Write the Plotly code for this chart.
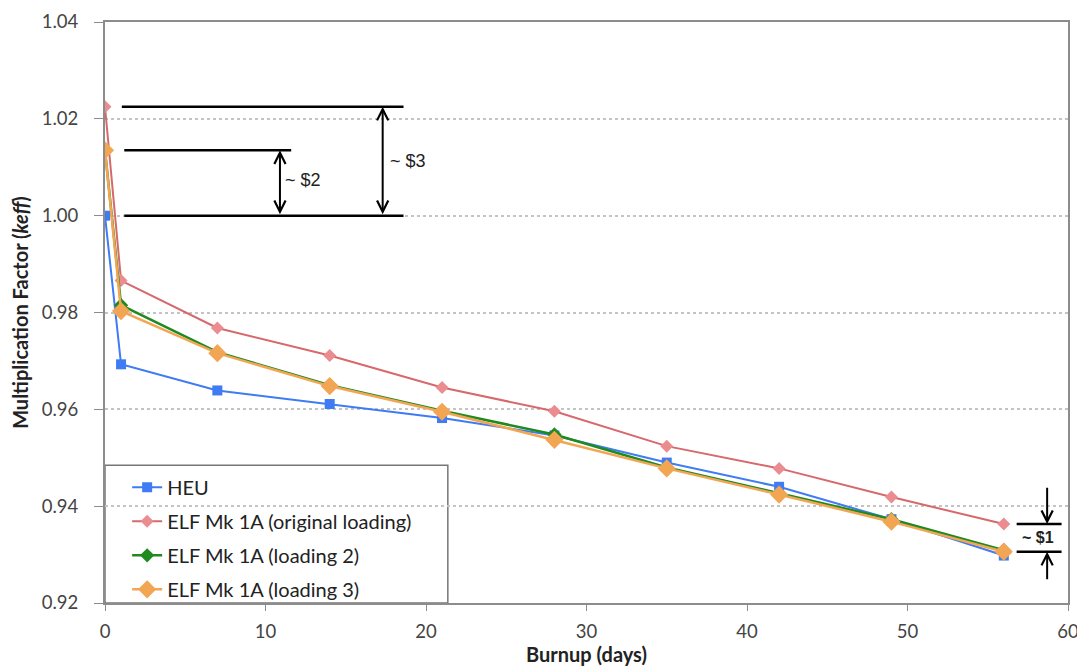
import plotly.graph_objects as go

# ---- data ----
days = [0, 1, 7, 14, 21, 28, 35, 42, 49, 56]
heu = [1.0000, 0.9693, 0.9639, 0.9611, 0.9582, 0.9546, 0.9490, 0.9440, 0.9373, 0.9298]
elf_orig = [1.0225, 0.9866, 0.9768, 0.9711, 0.9645, 0.9596, 0.9524, 0.9478, 0.9419, 0.9363]
elf_load2 = [1.0135, 0.9815, 0.9718, 0.9650, 0.9597, 0.9548, 0.9480, 0.9427, 0.9373, 0.9309]
elf_load3 = [1.0135, 0.9803, 0.9716, 0.9648, 0.9595, 0.9537, 0.9478, 0.9424, 0.9368, 0.9306]

y_ticks = [0.92, 0.94, 0.96, 0.98, 1.00, 1.02, 1.04]
x_ticks = [0, 10, 20, 30, 40, 50, 60]

fig = go.Figure()

fig.add_trace(go.Scatter(
    x=days, y=heu, name="HEU", mode="lines+markers", legendgroup="g1",
    line=dict(color="#3F7BF2", width=2),
    marker=dict(symbol="square", size=10, color="#3F7BF2")))
fig.add_trace(go.Scatter(
    x=days, y=elf_orig, name="ELF Mk 1A (original loading)", mode="lines+markers", legendgroup="g2",
    line=dict(color="#D7686C", width=2),
    marker=dict(symbol="diamond", size=10, color="#EB8C90")))
fig.add_trace(go.Scatter(
    x=days, y=elf_load2, name="ELF Mk 1A (loading 2)", mode="lines+markers", legendgroup="g3",
    line=dict(color="#1F8A1F", width=2.5),
    marker=dict(symbol="diamond", size=11, color="#1F8A1F")))
fig.add_trace(go.Scatter(
    x=days, y=elf_load3, name="ELF Mk 1A (loading 3)", mode="lines+markers", legendgroup="g4",
    line=dict(color="#F2A654", width=2.5),
    marker=dict(symbol="diamond", size=14, color="#F2A654")))

# ---- reactivity annotations ----
line_style = dict(color="black", width=2.5)
shapes = [
    # legend frame
    dict(type="rect", xref="paper", yref="paper", x0=0, x1=0.356, y0=0, y1=0.237,
         line=dict(color="#777", width=1.5), fillcolor="white", layer="between"),
    dict(type="line", xref="x", yref="y", x0=1.05, x1=18.6, y0=elf_orig[0], y1=elf_orig[0], line=line_style),
    dict(type="line", xref="x", yref="y", x0=1.2, x1=11.6, y0=elf_load2[0], y1=elf_load2[0], line=line_style),
    dict(type="line", xref="x", yref="y", x0=1.2, x1=18.6, y0=heu[0], y1=heu[0], line=line_style),
    dict(type="line", xref="x", yref="y", x0=56.8, x1=59.6, y0=elf_orig[-1], y1=elf_orig[-1], line=line_style),
    dict(type="line", xref="x", yref="y", x0=56.8, x1=59.6, y0=elf_load3[-1], y1=elf_load3[-1], line=line_style),
]

arrow_common = dict(xref="x", yref="y", axref="x", ayref="y", text="", showarrow=True,
                    arrowhead=5, arrowsize=1.1, arrowwidth=2, arrowcolor="black",
                    standoff=0, startstandoff=0)
annotations = [
    dict(x=10.9, y=elf_load2[0], ax=10.9, ay=heu[0], arrowside="end+start", startarrowhead=5,
         startarrowsize=1.1, **arrow_common),
    dict(x=17.3, y=elf_orig[0], ax=17.3, ay=heu[0], arrowside="end+start", startarrowhead=5,
         startarrowsize=1.1, **arrow_common),
    dict(x=58.7, y=elf_orig[-1], ax=58.7, ay=0.9441, **arrow_common),
    dict(x=58.7, y=elf_load3[-1], ax=58.7, ay=0.9246, **arrow_common),
]
text_font = dict(family="Liberation Sans, Arial", size=18, color="#222")
annotations += [
    dict(x=11.1, y=1.0074, xref="x", yref="y", text="~ $2", showarrow=False,
         xanchor="left", yanchor="middle", font=text_font),
    dict(x=17.65, y=1.0112, xref="x", yref="y", text="~ $3", showarrow=False,
         xanchor="left", yanchor="middle", font=text_font),
    dict(x=58.15, y=0.9336, xref="x", yref="y", text="<b>~ $1</b>", showarrow=False,
         xanchor="center", yanchor="middle",
         font=dict(family="Liberation Sans, Arial", size=16, color="#222")),
]

axis_font = dict(family="Lato, Open Sans, sans-serif", size=18.5, color="#444")
title_font = dict(family="Lato, Open Sans, sans-serif", size=20, color="#222")
# The page body has an 8px margin, so the figure is shrunk by 8px and margins offset.
fig.update_layout(
    width=1077, height=660,
    margin=dict(l=97, r=17, t=14, b=65, autoexpand=False),
    paper_bgcolor="white", plot_bgcolor="white",
    shapes=shapes, annotations=annotations,
    legend=dict(x=0.023, y=-0.01, xanchor="left", yanchor="bottom",
                bgcolor="rgba(0,0,0,0)", borderwidth=0,
                font=dict(family="Lato, Open Sans, sans-serif", size=20, color="#222"),
                tracegroupgap=5),
    xaxis=dict(range=[0, 60], tickvals=x_ticks, ticktext=[str(v) for v in x_ticks],
               showgrid=False, zeroline=False, automargin=False,
               showline=True, mirror=True, linecolor="#8c8c8c", linewidth=2,
               ticks="outside", ticklen=6, tickcolor="#8c8c8c", tickwidth=1,
               tickfont=axis_font, ticklabelstandoff=5,
               title=dict(text="<b>Burnup (days)</b>", standoff=0, font=title_font)),
    yaxis=dict(range=[0.92, 1.04], tickvals=y_ticks, ticktext=[f"{v:.2f}" for v in y_ticks],
               showgrid=True, gridcolor="#c4c4c4", griddash="dot", gridwidth=1.5,
               zeroline=False, automargin=False,
               showline=True, mirror=True, linecolor="#8c8c8c", linewidth=2,
               ticks="outside", ticklen=9, tickcolor="#8c8c8c", tickwidth=1,
               tickfont=axis_font, ticklabelstandoff=12,
               title=dict(text="<b>Multiplication Factor (<i>keff</i>)</b>", standoff=10,
                          font=title_font)),
)

fig.write_html("out.html")
